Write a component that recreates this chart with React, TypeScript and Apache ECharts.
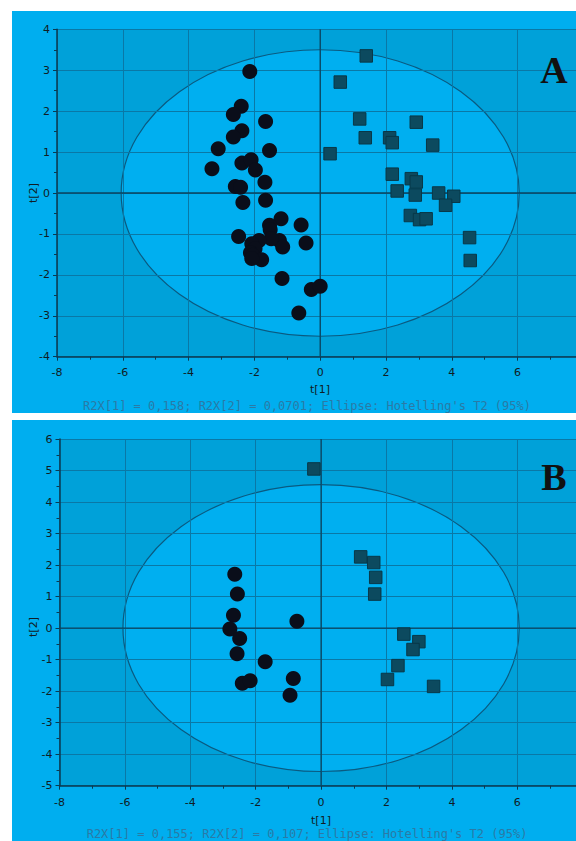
import React, { useEffect, useRef } from "react";
import * as echarts from "echarts";

// Panel A scores (t[1], t[2])
const circlesA: number[][] = [
  [-2.14, 2.97], [-2.4, 2.12], [-2.64, 1.92], [-1.66, 1.75], [-2.38, 1.52], [-2.64, 1.37],
  [-3.1, 1.08], [-1.54, 1.04], [-3.29, 0.59], [-2.38, 0.73], [-2.1, 0.81], [-1.97, 0.56],
  [-1.68, 0.26], [-2.58, 0.16], [-2.42, 0.14], [-2.35, -0.23], [-1.66, -0.18], [-1.19, -0.63],
  [-0.58, -0.78], [-1.54, -0.79], [-1.52, -0.9], [-0.43, -1.22], [-2.48, -1.06], [-1.24, -1.16],
  [-1.14, -1.32], [-1.49, -1.12], [-1.86, -1.16], [-2.08, -1.24], [-1.98, -1.36], [-2.12, -1.46],
  [-2.05, -1.52], [-1.78, -1.63], [-2.08, -1.6], [-1.16, -2.09], [-0.27, -2.36], [0.0, -2.28],
  [-0.65, -2.93],
];
const squaresA: number[][] = [
  [1.4, 3.35], [0.61, 2.71], [1.2, 1.81], [2.92, 1.73], [1.37, 1.35], [2.11, 1.35], [2.19, 1.23],
  [3.42, 1.17], [0.3, 0.96], [2.19, 0.46], [2.77, 0.35], [2.92, 0.27], [2.34, 0.05], [2.89, -0.05],
  [3.6, 0.0], [4.06, -0.08], [3.81, -0.3], [2.74, -0.55], [3.02, -0.65], [3.22, -0.63],
  [4.54, -1.09], [4.56, -1.65],
];
// Panel B scores
const circlesB: number[][] = [
  [-2.64, 1.71], [-2.56, 1.08], [-2.68, 0.41], [-2.79, -0.03], [-2.49, -0.33], [-2.57, -0.81],
  [-1.71, -1.07], [-0.74, 0.22], [-2.41, -1.75], [-2.17, -1.67], [-0.85, -1.6], [-0.95, -2.13],
];
const squaresB: number[][] = [
  [-0.22, 5.05], [1.21, 2.26], [1.61, 2.08], [1.67, 1.61], [1.64, 1.08], [2.53, -0.19],
  [2.99, -0.43], [2.81, -0.68], [2.35, -1.19], [2.03, -1.63], [3.44, -1.85],
];
// Hotelling's T2 ellipse [center x, center y, rx, ry]
const ellipseA = [0, 0, 6.05, 3.5];
const ellipseB = [0, 0, 6.06, 4.55];
const xRange = { min: -8, max: 8, interval: 2 };
const yRangeA = { min: -4, max: 4, interval: 1 };
const yRangeB = { min: -5, max: 6, interval: 1 };
const footerA = "R2X[1] = 0,158; R2X[2] = 0,0701; Ellipse: Hotelling's T2 (95%)";
const footerB = "R2X[1] = 0,155; R2X[2] = 0,107; Ellipse: Hotelling's T2 (95%)";
const xName = "t[1]";
const yName = "t[2]";

const PLOT_BG = "#00a1d9";
const PANEL_BG = "#00aeef";
const ELLIPSE_FILL = "#00aff0";
const GRID_LINE = "#0a78a6";
const AXIS_DARK = "#0a3a52";
const LABEL = "#101c24";

export default function App() {
  const ref = useRef<HTMLDivElement>(null);

  useEffect(() => {
    if (!ref.current) return;
    const chart = echarts.init(ref.current, undefined, { renderer: "svg" });

    const mkX = (gi: number, margin: number) => ({
      type: "value",
      gridIndex: gi,
      min: xRange.min,
      max: xRange.max,
      interval: xRange.interval,
      z: 3,
      axisLine: { show: true, onZero: false, lineStyle: { color: AXIS_DARK, width: 1.5 } },
      axisTick: { show: true, length: 4, lineStyle: { color: AXIS_DARK } },
      minorTick: { show: true, splitNumber: 2, length: 3, lineStyle: { color: AXIS_DARK } },
      axisLabel: { color: LABEL, fontSize: 11, margin, fontFamily: "DejaVu Sans", showMaxLabel: false },
      splitLine: { show: true, lineStyle: { color: GRID_LINE, width: 1 } },
    });
    const mkY = (gi: number, r: { min: number; max: number; interval: number }) => ({
      type: "value",
      gridIndex: gi,
      min: r.min,
      max: r.max,
      interval: r.interval,
      z: 3,
      axisLine: { show: true, onZero: false, lineStyle: { color: AXIS_DARK, width: 1.5 } },
      axisTick: { show: true, length: 4, lineStyle: { color: AXIS_DARK } },
      minorTick: { show: true, splitNumber: 2, length: 3, lineStyle: { color: AXIS_DARK } },
      axisLabel: { color: LABEL, fontSize: 11, margin: 7, fontFamily: "DejaVu Sans" },
      splitLine: { show: true, lineStyle: { color: GRID_LINE, width: 1 } },
    });

    const ellipseSeries = (gi: number, e: number[]) => ({
      type: "custom",
      xAxisIndex: gi,
      yAxisIndex: gi,
      z: 2,
      silent: true,
      data: [e],
      renderItem: (_p: any, api: any) => {
        const c = api.coord([api.value(0), api.value(1)]);
        const s = api.size([api.value(2), api.value(3)]);
        return {
          type: "ellipse",
          shape: { cx: c[0], cy: c[1], rx: s[0], ry: s[1] },
          style: { fill: ELLIPSE_FILL, stroke: "#0a5a80", lineWidth: 1.2 },
        };
      },
    });
    const zeroSeries = (gi: number) => ({
      type: "custom",
      xAxisIndex: gi,
      yAxisIndex: gi,
      z: 4,
      silent: true,
      data: [[0, 0]],
      renderItem: (p: any, api: any) => {
        const cs = p.coordSys;
        const c = api.coord([0, 0]);
        const st = { stroke: "#0a4460", lineWidth: 1.3 };
        return {
          type: "group",
          children: [
            { type: "line", shape: { x1: cs.x, y1: c[1], x2: cs.x + cs.width, y2: c[1] }, style: st },
            { type: "line", shape: { x1: c[0], y1: cs.y, x2: c[0], y2: cs.y + cs.height }, style: st },
          ],
        };
      },
    });
    const circleSeries = (gi: number, d: number[][]) => ({
      type: "scatter",
      xAxisIndex: gi,
      yAxisIndex: gi,
      z: 5,
      symbol: "circle",
      symbolSize: 15,
      itemStyle: { color: "#0a0e1a", opacity: 1 },
      data: d,
    });
    const squareSeries = (gi: number, d: number[][]) => ({
      type: "scatter",
      xAxisIndex: gi,
      yAxisIndex: gi,
      z: 5,
      symbol: "rect",
      symbolSize: 12.5,
      itemStyle: { color: "#0c4a5f", borderColor: "#083848", borderWidth: 1, opacity: 1 },
      data: d,
    });

    const txt = (x: number, y: number, text: string, extra: any = {}) => ({
      type: "text",
      x,
      y,
      z: 10,
      style: {
        text,
        fill: LABEL,
        fontSize: 11,
        fontFamily: "DejaVu Sans",
        align: "center",
        verticalAlign: "middle",
        ...extra,
      },
    });

    chart.setOption({
      animation: false,
      backgroundColor: "transparent",
      grid: [
        { left: 57, top: 29.3, width: 526.4, height: 327.4, show: true, backgroundColor: PLOT_BG, borderWidth: 0 },
        { left: 59.5, top: 439, width: 523.2, height: 346.7, show: true, backgroundColor: PLOT_BG, borderWidth: 0 },
      ],
      xAxis: [mkX(0, 10), mkX(1, 11)],
      yAxis: [mkY(0, yRangeA), mkY(1, yRangeB)],
      series: [
        ellipseSeries(0, ellipseA),
        ellipseSeries(1, ellipseB),
        zeroSeries(0),
        zeroSeries(1),
        squareSeries(0, squaresA),
        circleSeries(0, circlesA),
        squareSeries(1, squaresB),
        circleSeries(1, circlesB),
      ],
      graphic: [
        txt(320, 389, xName),
        { ...txt(0, 0, yName), x: 33, y: 193, rotation: Math.PI / 2 },
        txt(307, 406, footerA, { fill: "#2a7aa6", fontSize: 12, fontFamily: "DejaVu Sans Mono" }),
        txt(554, 70, "A", { fill: "#111111", fontSize: 38, fontWeight: "bold", fontFamily: "Liberation Serif" }),
        txt(321, 820, xName),
        { ...txt(0, 0, yName), x: 33, y: 627, rotation: Math.PI / 2 },
        txt(307, 833.5, footerB, { fill: "#2a7aa6", fontSize: 12, fontFamily: "DejaVu Sans Mono" }),
        txt(554, 477, "B", { fill: "#111111", fontSize: 38, fontWeight: "bold", fontFamily: "Liberation Serif" }),
      ],
    });
    return () => chart.dispose();
  }, []);

  return (
    <div
      style={{
        position: "fixed",
        left: 0,
        top: 0,
        width: 576,
        height: 841,
        overflow: "hidden",
        background: "#ffffff",
      }}
    >
      <div style={{ position: "absolute", left: 12, top: 11, width: 600, height: 401.5, background: PANEL_BG }} />
      <div style={{ position: "absolute", left: 12, top: 419.5, width: 600, height: 430, background: PANEL_BG }} />
      <div ref={ref} style={{ position: "absolute", left: 0, top: 0, width: 600, height: 841 }} />
    </div>
  );
}
